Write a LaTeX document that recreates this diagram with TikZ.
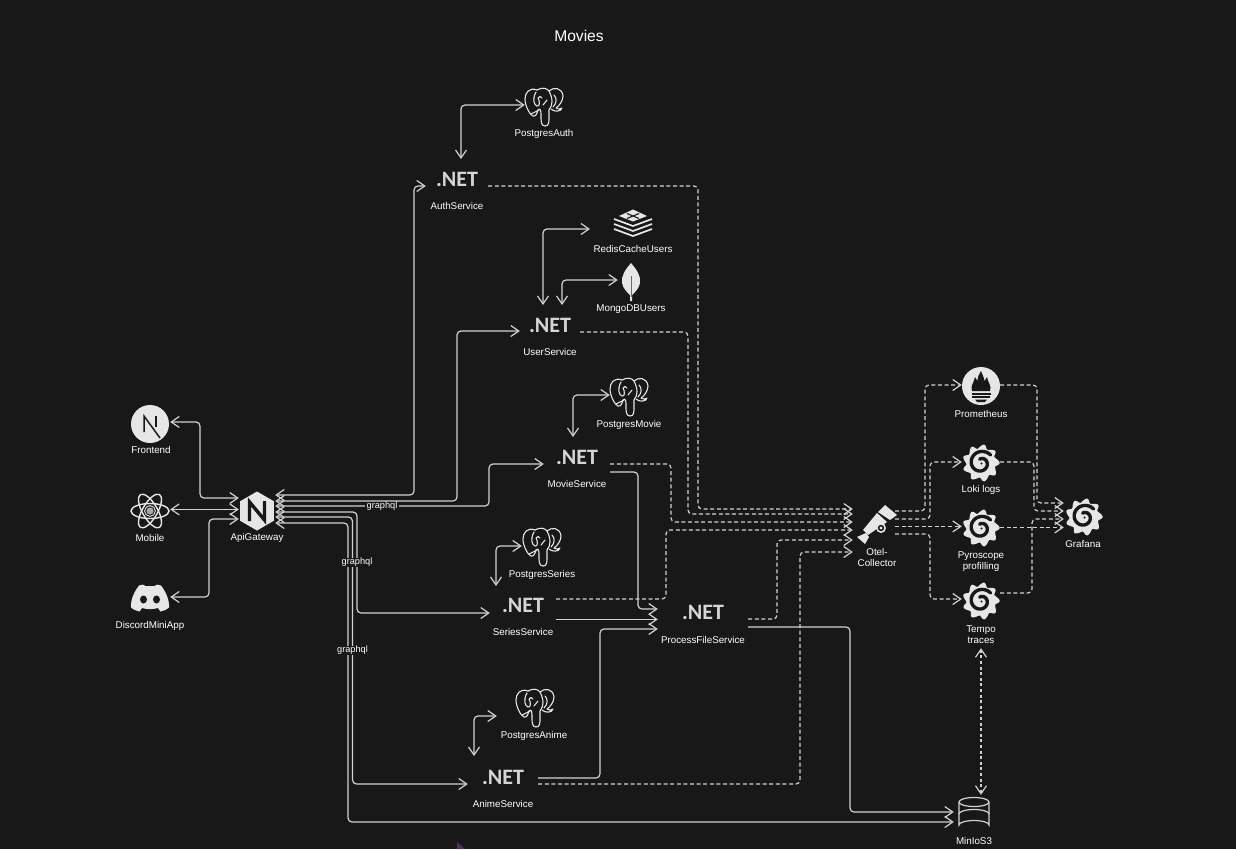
\documentclass[tikz,border=0pt]{standalone}
\usepackage{fontspec}
\setmainfont{Liberation Sans}
\newfontfamily\dnfont{Carlito}
\usetikzlibrary{arrows.meta,calc}
\definecolor{bg}{HTML}{181818}
\definecolor{ink}{HTML}{E6E6E6}
\definecolor{wire}{HTML}{D2D2D2}
\definecolor{cursorc}{HTML}{4E3158}
\tikzset{
 barb/.tip={Straight Barb[length=8pt,width=11pt]},
 link/.style={draw=wire,line width=1.2pt,rounded corners=4pt,barb-barb},
 onelink/.style={draw=wire,line width=1.2pt,rounded corners=4pt,-barb},
 dlink/.style={draw=wire,line width=1.2pt,rounded corners=4pt,dash pattern=on 4pt off 2.6pt,-barb},
 lbl/.style={text=white,font=\fontsize{9.8}{10.8}\selectfont,align=center,inner sep=0pt,yshift=-0.4pt},
 edgelbl/.style={lbl,fill=bg,font=\fontsize{9.2}{10.5}\selectfont,inner xsep=1.5pt,inner ysep=0.5pt},
 icon/.style={inner sep=0pt,minimum width=#1,minimum height=38pt,draw=none},
 dotnet/.style={text=ink!92!bg,font=\dnfont\bfseries\fontsize{22}{24}\selectfont,inner sep=0pt,minimum height=22pt,minimum width=#1},
 pg/.pic={
  \begin{scope}[draw=ink,line width=1.1pt,fill=none,line cap=round,line join=round]
  \draw (-7,-17) .. controls (-15,-20) and (-19,-14) .. (-19,-8) .. controls (-19,-1) and (-14,8) .. (-11,9) .. controls (-8,10) and (-7,6) .. (-6,3);
  \draw (-7,-17) .. controls (-2,-20) and (3,-19) .. (5,-16) .. controls (9,-20) and (18,-20) .. (19,-11) .. controls (19,-6) and (15,-1) .. (12,1) .. controls (14,3) and (17,2) .. (18,1) .. controls (17,5) and (10,5) .. (7,2);
  \draw (-8,-15) .. controls (-12,-8) and (-10,-2) .. (-7,-1) .. controls (-4,0) and (-4,-6) .. (-6,-9) .. controls (-5,-11) and (-3,-11) .. (-2,-9);
  \draw (-6,3) .. controls (-3,0) and (-3,5) .. (-3,10) .. controls (-3,14) and (-3,19) .. (1,19) .. controls (5,19) and (5,15) .. (5,10) -- (5,3) .. controls (9,-2) and (9,-8) .. (5,-16);
  \draw (-13,7) -- (-5,3) (-1,-2) -- (3,-7);
  \draw (10,-12) .. controls (13,-9) and (13,-4) .. (9,0);
  \end{scope}},
 gear/.pic={
  \fill[ink] plot[domain=0:360,samples=145,variable=\t] (\t:{15+3.8*(0.5+0.5*cos(9*\t+20))^1.5+0.4*sin(18*\t)}) -- cycle;
  \draw[bg,line width=3.4pt,line cap=round] plot[domain=0:430,samples=70,variable=\t] ({-40-\t}:{12.5-\t/430*8.5});
  \fill[ink] (1,1) circle (2.6);
  \fill[bg] (0.5,0.5) circle (1.1);
 },
}
\begin{document}
\begin{tikzpicture}[x=1pt,y=-1pt]
\useasboundingbox (0,0) rectangle (1236,849);
\fill[bg] (0,0) rectangle (1236,849);
\fill[cursorc] (457,842) -- (465,849) -- (457,849) -- cycle;
\node[text=white,font=\fontsize{15.6}{17}\selectfont,inner sep=0pt] (title) at (579,36) {Movies};

% ---- nodes
\node[icon=40pt] (front) at (150,424) {};
\node[icon=40pt] (mobile) at (150,511) {};
\node[icon=40pt] (discord) at (150,598) {};
\node[icon=36pt] (gw) at (257,511) {};
\node[dotnet=62pt] (auth) at (457,179) {.NET};
\node[dotnet=60pt] (user) at (550,325) {.NET};
\node[dotnet=66pt] (movie) at (577,457) {.NET};
\node[dotnet=66pt] (series) at (523,605) {.NET};
\node[dotnet=90pt] (process) at (703,612) {.NET};
\node[dotnet=70pt] (anime) at (503,777) {.NET};
\node[icon=38pt] (pgauth) at (544,107) {};
\node[icon=38pt] (pgmovie) at (629,397) {};
\node[icon=38pt] (pgseries) at (542,547) {};
\node[icon=38pt] (pganime) at (535,708) {};
\node[icon=42pt] (redis) at (633,222) {};
\node[icon=18pt] (mongo) at (631,282) {};
\node[icon=42pt] (otel) at (874,524) {};
\node[icon=38pt] (prom) at (981,386) {};
\node[icon=38pt] (loki) at (981,463) {};
\node[icon=38pt] (pyro) at (981,528) {};
\node[icon=38pt] (tempo) at (981,601) {};
\node[icon=40pt] (grafana) at (1084,517) {};
\node[icon=40pt] (minio) at (974,814) {};

% ---- labels
\node[lbl] (lfront) at (151,450) {Frontend};
\node[lbl] (lmobile) at (150,538) {Mobile};
\node[lbl] (ldiscord) at (150,626) {DiscordMiniApp};
\node[lbl] (lgw) at (257,538) {ApiGateway};
\node[lbl] (lauth) at (457,206) {AuthService};
\node[lbl] (luser) at (550,352) {UserService};
\node[lbl] (lmovie) at (577,484) {MovieService};
\node[lbl] (lseries) at (523,632) {SeriesService};
\node[lbl] (lprocess) at (703,639.5) {ProcessFileService};
\node[lbl] (lanime) at (503,804) {AnimeService};
\node[lbl] (lpgauth) at (544,134) {PostgresAuth};
\node[lbl] (lpgmovie) at (629,424.5) {PostgresMovie};
\node[lbl] (lpgseries) at (542,575) {PostgresSeries};
\node[lbl] (lpganime) at (534,735.5) {PostgresAnime};
\node[lbl] (lredis) at (633,248.5) {RedisCacheUsers};
\node[lbl] (lmongo) at (631,308.5) {MongoDBUsers};
\node[lbl] (lotel) at (877,557) {Otel-\\Collector};
\node[lbl] (lprom) at (981,414) {Prometheus};
\node[lbl] (lloki) at (981,490) {Loki logs};
\node[lbl] (lpyro) at (981,561) {Pyroscope\\profilling};
\node[lbl] (ltempo) at (981,634) {Tempo\\traces};
\node[lbl] (lgrafana) at (1083,544) {Grafana};
\node[lbl] (lminio) at (974,841) {MinIoS3};

% ---- connectors
\draw[link] ([yshift=2pt]front.east) -- (200,422) -- (200,498) -- ([yshift=13pt]gw.west);
\draw[link] ([yshift=1.6pt]mobile.east) -- ([yshift=1.6pt]gw.west);
\draw[link] ([yshift=1pt]discord.east) -- (209,597) -- (209,519) -- ([yshift=-8pt]gw.west);

\draw[link] ([yshift=16pt]gw.east) -- (414,495) -- (414,186) -- ([yshift=-7pt]auth.west);
\draw[link] ([yshift=10pt]gw.east) -- (457,501) -- (457,331) -- ([yshift=-6pt]user.west);
\draw[link] ([yshift=5pt]gw.east) -- (489,506) -- (489,464) -- ([yshift=-7pt]movie.west);
\draw[link] ([yshift=-1pt]gw.east) -- (357,512) -- (357,613) -- ([yshift=-8pt]series.west);
\draw[link] ([yshift=-6pt]gw.east) -- (352.5,517) -- (352.5,784) -- ([yshift=-7pt]anime.west);
\draw[link] ([yshift=-12pt]gw.east) -- (348,523) -- (348,822) -- ([yshift=-8pt]minio.west);
\node[edgelbl] (g1) at (382,506) {graphql};
\node[edgelbl] (g2) at (357,562) {graphql};
\node[edgelbl] (g3) at (352.5,650) {graphql};

\draw[link] ([yshift=2pt]pgauth.west) -- (461,105) -- (461,159);
\draw[link] (590,229) -- (543,229) -- (543,305);
\draw[link] ([xshift=-4pt,yshift=2pt]mongo.west) -- (562,280) -- (562,305);
\draw[link] ([yshift=2pt]pgmovie.west) -- (573,395) -- (573,437);
\draw[link] ([xshift=-1pt,yshift=1pt]pgseries.west) -- (496,546) -- (496,586);
\draw[link] ([xshift=-19pt,yshift=-8pt]pganime.west) -- (474,716) -- (474,756);

\draw[dlink] ([yshift=-7pt]auth.east) -- (698,186) -- (698,509) -- ([yshift=15pt]otel.west);
\draw[dlink] ([yshift=-7pt]user.east) -- (688,332) -- (688,514) -- ([yshift=10pt]otel.west);
\draw[dlink] ([yshift=-7pt]movie.east) -- (671,464) -- (671,522) -- ([yshift=2pt]otel.west);
\draw[dlink] ([yshift=6pt]series.east) -- (666,599) -- (666,530) -- ([yshift=-6pt]otel.west);
\draw[dlink] ([yshift=-7pt]process.east) -- (777,619) -- (777,540) -- ([yshift=-16pt]otel.west);
\draw[dlink] ([yshift=-7pt]anime.east) -- (800,784) -- (800,552) -- ([yshift=-28pt]otel.west);

\draw[onelink] ([yshift=-15pt]movie.east) -- (638,472) -- (638,609) -- ([yshift=3pt]process.west);
\draw[onelink] ([yshift=-14.4pt]series.east) -- ([yshift=-7.4pt]process.west);
\draw[onelink] ([yshift=-1pt]anime.east) -- (600,778) -- (600,629) -- ([yshift=-17pt]process.west);
\draw[onelink] ([yshift=-15pt]process.east) -- (850,627) -- (850,812) -- ([yshift=2pt]minio.west);

\draw[dlink] ([yshift=13pt]otel.east) -- (925,511) -- (925,385) -- ([yshift=1pt]prom.west);
\draw[dlink] ([yshift=5pt]otel.east) -- (930,519) -- (930,462) -- ([yshift=1pt]loki.west);
\draw[dlink] ([yshift=-2.4pt]otel.east) -- ([yshift=1.6pt]pyro.west);
\draw[dlink] ([yshift=-10pt]otel.east) -- (930,534) -- (930,599) -- ([yshift=2pt]tempo.west);

\draw[dlink] ([yshift=1pt]prom.east) -- (1037,385) -- (1037,503) -- ([yshift=14pt]grafana.west);
\draw[dlink] ([yshift=1pt]loki.east) -- (1034,462) -- (1034,511) -- ([yshift=6pt]grafana.west);
\draw[dlink] ([yshift=0.6pt]pyro.east) -- ([yshift=-10.4pt]grafana.west);
\draw[dlink] ([yshift=8pt]tempo.east) -- (1032,593) -- (1032,519) -- ([yshift=-2pt]grafana.west);

\draw[link,dash pattern=on 3pt off 2.6pt,xshift=0.4pt] ([yshift=-28pt]tempo.south) -- ([xshift=7pt]minio.north);

% ---- icons
% next
\fill[ink] (front) ++(0,0) circle (19);
\begin{scope}[shift={(front.center)}]
 \draw[bg,line width=1.5pt] (-6,8) -- (-6,-8) -- (10,14);
 \draw[bg,line width=1.5pt] (6,-8) -- (6,3);
\end{scope}
% react
\begin{scope}[shift={(mobile.center)},draw=ink,line width=1.4pt]
 \foreach \a in {0,60,120} {\draw[rotate=\a] (0,0) ellipse (19 and 7.5);}
 \fill[ink!70!bg] (0,0) circle (3.6);
 \draw[line width=0.9pt] (0,0) circle (5.4);
\end{scope}
% nginx
\begin{scope}[shift={(gw.center)}]
 \fill[ink] (90:19.5) -- (30:19.5) -- (-30:19.5) -- (-90:19.5) -- (-150:19.5) -- (150:19.5) -- cycle;
 \draw[bg,line width=3.4pt,line join=miter] (-7.5,10) -- (-7.5,-9) -- (7.5,9) -- (7.5,-10);
\end{scope}
% discord
\begin{scope}[shift={(discord.center)}]
 \fill[ink] (-11,-12.5) .. controls (-8,-13.5) and (-5.5,-14) .. (-4.5,-12) -- (4.5,-12) .. controls (5.5,-14) and (8,-13.5) .. (11,-12.5) .. controls (16,-6) and (19.5,2) .. (19,9.5) .. controls (16,12) and (13,13) .. (10.5,13.5) -- (8,10) .. controls (3,11.5) and (-3,11.5) .. (-8,10) -- (-10.5,13.5) .. controls (-13,13) and (-16,12) .. (-19,9.5) .. controls (-19.5,2) and (-16,-6) .. (-11,-12.5) -- cycle;
 \fill[bg] (-6.5,1.5) ellipse (3.5 and 4);
 \fill[bg] (6.5,1.5) ellipse (3.5 and 4);
\end{scope}
% postgres
\pic at (pgauth.center) {pg};
\pic at (pgmovie.center) {pg};
\pic at (pgseries.center) {pg};
\pic at (pganime.center) {pg};
% redis
\begin{scope}[shift={(redis.center)},draw=ink,line width=1.7pt,line join=round]
 \draw (-19,-3) -- (0,4) -- (19,-3);
 \draw (-19,2) -- (0,9) -- (19,2);
 \draw (-19,7) -- (0,14) -- (19,7);
 \fill[ink] (-14,-6) -- (0,-12.5) -- (14,-6) -- (0,-0.5) -- cycle;
 \draw[bg,line width=1.1pt] (-6,-3.5) -- (6,-8.5) (-6,-8.5) -- (6,-3.5);
\end{scope}
% mongo
\begin{scope}[shift={(mongo.center)}]
 \fill[ink] (0,-19) .. controls (6,-12) and (10,-6) .. (9,1) .. controls (8,7) and (3,11) .. (1,13) -- (1,19) -- (-1,19) -- (-1,13) .. controls (-3,11) and (-8,7) .. (-9,1) .. controls (-10,-6) and (-6,-12) .. (0,-19) -- cycle;
 \draw[bg!60!ink,line width=0.8pt] (0,-6) -- (0,15);
\end{scope}
% telescope
\begin{scope}[shift={(876,524)}]
 \fill[ink] (9,-19) -- (21,-9) -- (14,-4) -- (2,-12) -- cycle;
 \fill[ink] (1,-11) -- (11,-2) -- (-8,11) -- (-13,6) -- cycle;
 \fill[ink] (-19,13) -- (-11,20) -- (-7,13) -- (-10,9) -- cycle;
 \fill[ink] (5,4) circle (5);
 \fill[bg] (5,4) circle (3.2);
 \fill[ink] (5,4) circle (1.6);
\end{scope}
% prometheus
\begin{scope}[shift={(prom.center)}]
 \fill[ink] (0,0) circle (19);
 \fill[bg] (-9,5) .. controls (-11,0) and (-7,-3) .. (-6,-9) .. controls (-5,-7) and (-4,-6) .. (-3.5,-5) .. controls (-3.5,-9) and (-2,-12) .. (0,-15) .. controls (1,-12) and (3,-9) .. (3.5,-5) .. controls (4,-6) and (5,-7) .. (6,-9) .. controls (7,-3) and (11,0) .. (9,5) -- cycle;
 \fill[bg] (-9.5,6.5) rectangle (9.5,8.5);
 \fill[bg] (-9,10) rectangle (9,12);
 \fill[bg] (-6,13.5) -- (6,13.5) -- (4,16) -- (-4,16) -- cycle;
\end{scope}
% grafana family
\pic at (loki.center) {gear};
\pic at (pyro.center) {gear};
\pic at (tempo.center) {gear};
\pic at (grafana.center) {gear};
% minio
\begin{scope}[shift={(minio.center)},draw=wire,line width=1.2pt]
 \draw (0,-12) ellipse (15 and 4.5);
 \draw (-15,-12) -- (-15,11) arc[start angle=180,end angle=360,x radius=15,y radius=4.5] -- (15,-12);
 \draw (-15,0) arc[start angle=180,end angle=360,x radius=15,y radius=4.5];
\end{scope}
\end{tikzpicture}
\end{document}
